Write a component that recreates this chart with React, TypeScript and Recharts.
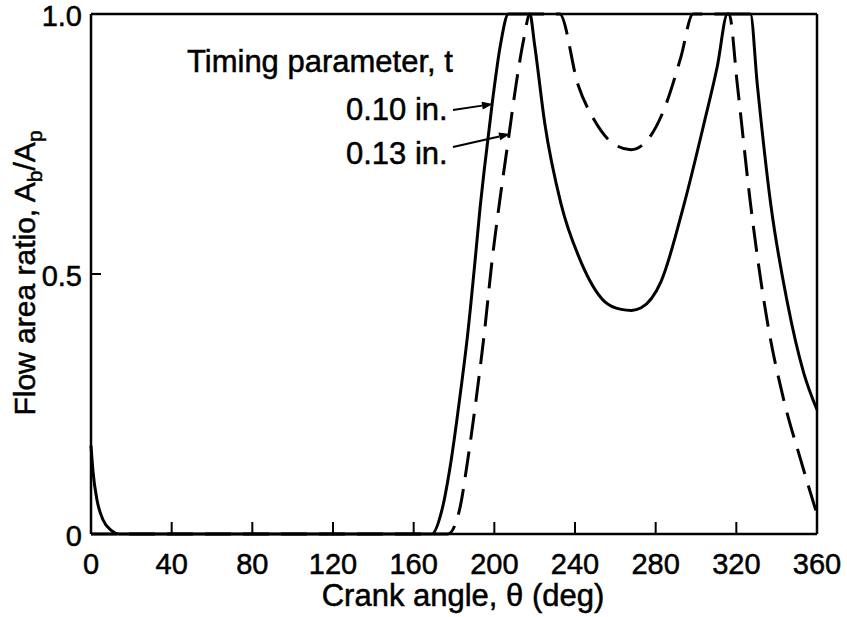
import { LineChart, Line, XAxis, YAxis, ReferenceLine } from "recharts";

const FONT = '"Liberation Sans", Arial, Helvetica, sans-serif';

const angleTicks = [0, 40, 80, 120, 160, 200, 240, 280, 320, 360];
const ratioTicks = [0, 0.5, 1];

// t = 0.10 in. (solid)
const thinAngles = [
  0, 1, 3, 6, 10, 14, 169, 174, 178.6, 182.7, 186.8, 190.9, 193, 195, 199,
  203, 207, 217.6, 220, 225, 233, 243, 254.7, 262.9, 268, 272.8, 282.6, 294.2,
  304, 310.6, 315.6, 327, 330.4, 337, 345.2, 353.4, 360,
];
const thinRatios = [
  0.17, 0.12, 0.065, 0.027, 0.007, 0, 0, 0.046, 0.142, 0.257, 0.385, 0.544,
  0.63, 0.7, 0.83, 0.94, 1, 1, 0.94, 0.79, 0.636, 0.523, 0.447, 0.432, 0.43,
  0.435, 0.485, 0.636, 0.79, 0.9, 1, 1, 0.864, 0.636, 0.447, 0.31, 0.239,
];

// t = 0.13 in. (dashed)
const thickAngles = [
  0, 177, 182.7, 186.8, 190.9, 195, 199, 203, 207, 211, 214.5, 217.6, 232.4,
  241.5, 249.7, 257.9, 267.8, 276, 284.3, 292.5, 298.5, 316.4, 320.5, 327,
  335.3, 343.5, 351.8, 360,
];
const thickRatios = [
  0, 0, 0.046, 0.142, 0.257, 0.385, 0.53, 0.65, 0.76, 0.87, 0.95, 1, 1, 0.864,
  0.795, 0.754, 0.739, 0.758, 0.818, 0.917, 1, 1, 0.864, 0.636, 0.41, 0.258,
  0.144, 0.038,
];

const thinData = thinAngles.map((a, i) => ({ angle: a, ratio: thinRatios[i] }));
const thickData = thickAngles.map((a, i) => ({ angle: a, ratio: thickRatios[i] }));

const textStyle = {
  fill: "#000",
  fontFamily: FONT,
  stroke: "#000",
  strokeWidth: 0.5,
};

function AngleTick(props: any) {
  const { x, y, payload } = props;
  return (
    <g>
      <line x1={x} y1={y} x2={x} y2={y - 12} stroke="#000" strokeWidth={2} />
      <text x={x} y={y + 40} textAnchor="middle" fontSize={29} {...textStyle}>
        {payload.value}
      </text>
    </g>
  );
}

function RatioTick(props: any) {
  const { x, y, payload } = props;
  const v = payload.value;
  return (
    <g>
      <line x1={x} y1={y} x2={x + 10} y2={y} stroke="#000" strokeWidth={2} />
      <text x={x - 9} y={y + 12} textAnchor="end" fontSize={29} {...textStyle}>
        {v === 0 ? "0" : v.toFixed(1)}
      </text>
    </g>
  );
}

const XTitle = () => (
  <text x={463} y={606} textAnchor="middle" fontSize={31} {...textStyle}>
    Crank angle, θ (deg)
  </text>
);

const YTitle = () => (
  <text
    transform="translate(35, 273) rotate(-90)"
    textAnchor="middle"
    fontSize={30}
    {...textStyle}
  >
    Flow area ratio, A<tspan fontSize={21} dy={7}>b</tspan>
    <tspan dy={-7}>/A</tspan>
    <tspan fontSize={21} dy={7}>p</tspan>
  </text>
);

function Arrow({ x1, y1, x2, y2 }: { x1: number; y1: number; x2: number; y2: number }) {
  const len = Math.hypot(x2 - x1, y2 - y1);
  const ux = (x2 - x1) / len;
  const uy = (y2 - y1) / len;
  const bx = x2 - ux * 11;
  const by = y2 - uy * 11;
  const head = `${x2},${y2} ${bx - uy * 4},${by + ux * 4} ${bx + uy * 4},${by - ux * 4}`;
  return (
    <g>
      <line x1={x1} y1={y1} x2={bx} y2={by} stroke="#000" strokeWidth={2} />
      <polygon points={head} fill="#000" />
    </g>
  );
}

export default function App() {
  return (
    <div style={{ position: "absolute", left: 0, top: 0, width: 847, height: 617, background: "#fff" }}>
      <LineChart
        width={847}
        height={617}
        margin={{ top: 14, right: 30, left: 0, bottom: 0 }}
      >
        <XAxis
          dataKey="angle"
          type="number"
          domain={[0, 360]}
          ticks={angleTicks}
          interval={0}
          height={83}
          tickSize={0}
          tickMargin={0}
          tick={(p: any) => <AngleTick {...p} />}
          axisLine={{ stroke: "#000", strokeWidth: 2.5 }}
          label={<XTitle />}
        />
        <YAxis
          type="number"
          domain={[0, 1]}
          ticks={ratioTicks}
          interval={0}
          width={91}
          tickSize={0}
          tickMargin={0}
          tick={(p: any) => <RatioTick {...p} />}
          axisLine={{ stroke: "#000", strokeWidth: 2.5 }}
          label={<YTitle />}
        />
        <ReferenceLine y={1} stroke="#000" strokeWidth={2.5} />
        <ReferenceLine x={360} stroke="#000" strokeWidth={2.5} />
        <Line
          data={thinData}
          dataKey="ratio"
          type="monotone"
          stroke="#000"
          strokeWidth={3}
          dot={false}
          isAnimationActive={false}
        />
        <Line
          data={thickData}
          dataKey="ratio"
          type="monotone"
          stroke="#000"
          strokeWidth={3}
          strokeDasharray="26 12"
          dot={false}
          isAnimationActive={false}
        />
      </LineChart>
      <svg
        width={847}
        height={617}
        style={{ position: "absolute", left: 0, top: 0, pointerEvents: "none" }}
      >
        <text x={187} y={72} fontSize={31} {...textStyle}>
          Timing parameter, t
        </text>
        <text x={346} y={120} fontSize={31} {...textStyle}>
          0.10 in.
        </text>
        <text x={346} y={164} fontSize={31} {...textStyle}>
          0.13 in.
        </text>
        <Arrow x1={453} y1={110} x2={493} y2={104} />
        <Arrow x1={453} y1={147} x2={510} y2={134} />
      </svg>
    </div>
  );
}
